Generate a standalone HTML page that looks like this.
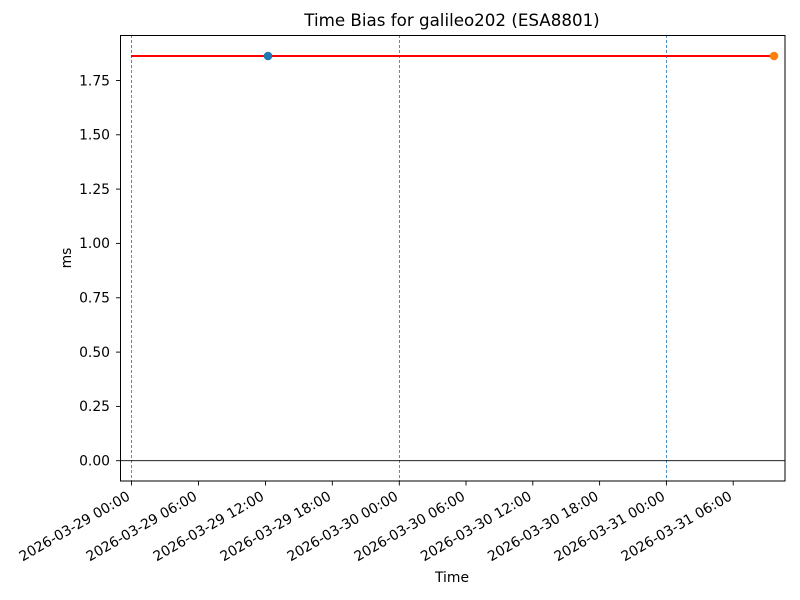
<!DOCTYPE html>
<html><head><style>body{margin:0;background:#fff}svg{display:block}text{font-family:"DejaVu Sans","Liberation Sans",sans-serif;font-size:13.9px;fill:#000}</style></head>
<body>
<svg width="800" height="600" xmlns="http://www.w3.org/2000/svg">
<rect width="800" height="600" fill="#fff"/>
<text x="452" y="26" text-anchor="middle" style="font-size:16.7px">Time Bias for galileo202 (ESA8801)</text>
<g stroke="#4a90c8" stroke-width="1" stroke-dasharray="3,2">
<line x1="131.5" y1="35" x2="131.5" y2="481"/>
<line x1="399.5" y1="35" x2="399.5" y2="481"/>
<line x1="666.5" y1="35" x2="666.5" y2="481"/>
</g>
<line x1="120.5" y1="460.7" x2="785" y2="460.7" stroke="#000" stroke-width="0.9"/>
<line x1="131" y1="56" x2="774" y2="56" stroke="#ff0000" stroke-width="2"/>
<circle cx="268" cy="56" r="4.3" fill="#1f77b4"/>
<circle cx="774" cy="56" r="4.3" fill="#ff7f0e"/>
<rect x="120.5" y="35.5" width="664.5" height="445.5" fill="none" stroke="#000" stroke-width="1"/>
<g stroke="#000" stroke-width="0.9">
<line x1="116" y1="460.7" x2="120.5" y2="460.7"/>
<line x1="116" y1="406.4" x2="120.5" y2="406.4"/>
<line x1="116" y1="352.1" x2="120.5" y2="352.1"/>
<line x1="116" y1="297.8" x2="120.5" y2="297.8"/>
<line x1="116" y1="243.4" x2="120.5" y2="243.4"/>
<line x1="116" y1="189.1" x2="120.5" y2="189.1"/>
<line x1="116" y1="134.8" x2="120.5" y2="134.8"/>
<line x1="116" y1="80.5" x2="120.5" y2="80.5"/>
</g>
<g text-anchor="end">
<text x="110" y="465.5">0.00</text>
<text x="110" y="411.2">0.25</text>
<text x="110" y="356.9">0.50</text>
<text x="110" y="302.6">0.75</text>
<text x="110" y="248.2">1.00</text>
<text x="110" y="193.9">1.25</text>
<text x="110" y="139.6">1.50</text>
<text x="110" y="85.3">1.75</text>
</g>
<text transform="translate(71,258) rotate(-90)" text-anchor="middle">ms</text>
<text x="452" y="582" text-anchor="middle">Time</text>
<g stroke="#000" stroke-width="0.9">
<line x1="131.5" y1="481" x2="131.5" y2="485.5"/>
<line x1="198.5" y1="481" x2="198.5" y2="485.5"/>
<line x1="265.5" y1="481" x2="265.5" y2="485.5"/>
<line x1="332.3" y1="481" x2="332.3" y2="485.5"/>
<line x1="399.3" y1="481" x2="399.3" y2="485.5"/>
<line x1="466" y1="481" x2="466" y2="485.5"/>
<line x1="532.8" y1="481" x2="532.8" y2="485.5"/>
<line x1="599.6" y1="481" x2="599.6" y2="485.5"/>
<line x1="666.4" y1="481" x2="666.4" y2="485.5"/>
<line x1="733.2" y1="481" x2="733.2" y2="485.5"/>
</g>
<g text-anchor="end">
<text transform="translate(131,499) rotate(-30)">2026-03-29 00:00</text>
<text transform="translate(198,499) rotate(-30)">2026-03-29 06:00</text>
<text transform="translate(265,499) rotate(-30)">2026-03-29 12:00</text>
<text transform="translate(332,499) rotate(-30)">2026-03-29 18:00</text>
<text transform="translate(399,499) rotate(-30)">2026-03-30 00:00</text>
<text transform="translate(466,499) rotate(-30)">2026-03-30 06:00</text>
<text transform="translate(532.5,499) rotate(-30)">2026-03-30 12:00</text>
<text transform="translate(599.5,499) rotate(-30)">2026-03-30 18:00</text>
<text transform="translate(666,499) rotate(-30)">2026-03-31 00:00</text>
<text transform="translate(733,499) rotate(-30)">2026-03-31 06:00</text>
</g>
</svg>
</body></html>
